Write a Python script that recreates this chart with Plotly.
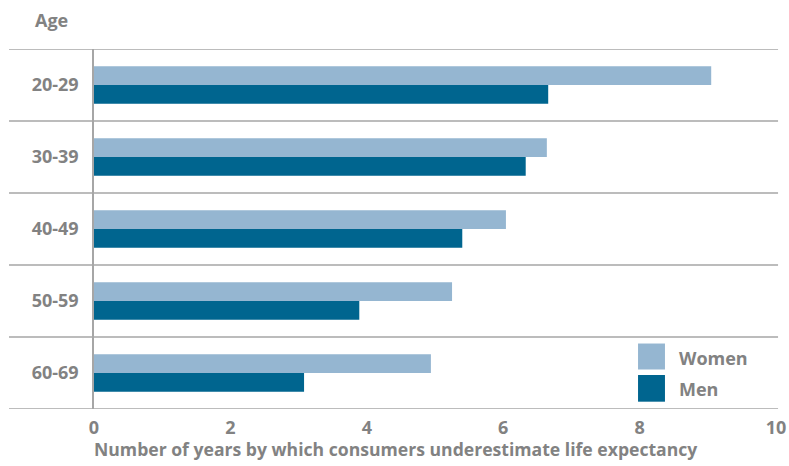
import plotly.graph_objects as go

categories = ["20-29", "30-39", "40-49", "50-59", "60-69"]
women = [9.05, 6.64, 6.04, 5.25, 4.94]
men = [6.66, 6.33, 5.40, 3.89, 3.08]
x_ticks = [0, 2, 4, 6, 8, 10]

WOMEN_C = "#95b6d1"
MEN_C = "#00658f"
GRAY = "#828282"
LINE = "#a6a6a6"
FONT = "Open Sans"
FS = 18
W = "bold"

fig = go.Figure()
fig.add_trace(go.Bar(y=categories, x=women, name="Women", orientation="h",
                     marker=dict(color=WOMEN_C, line=dict(width=0))))
fig.add_trace(go.Bar(y=categories, x=men, name="Men", orientation="h",
                     marker=dict(color=MEN_C, line=dict(width=0))))

shapes = []
for b in [i - 0.5 for i in range(len(categories) + 1)]:
    shapes.append(dict(type="line", xref="paper", yref="y", x0=-0.1246, x1=1.003,
                       y0=b, y1=b, line=dict(color=LINE, width=1.5)))
# legend swatches
shapes.append(dict(type="rect", xref="paper", yref="paper", x0=0.7977, x1=0.8372,
                   y0=0.1097, y1=0.1819, fillcolor=WOMEN_C, line=dict(width=0)))
shapes.append(dict(type="rect", xref="paper", yref="paper", x0=0.7977, x1=0.8372,
                   y0=0.0203, y1=0.0944, fillcolor=MEN_C, line=dict(width=0)))

tf = dict(family=FONT, size=FS, color=GRAY, weight=W)
annotations = [
    dict(text="Age", xref="paper", yref="paper", x=-0.0623, y=1.081,
         xanchor="center", yanchor="middle", showarrow=False, font=tf),
    dict(text="Number of years by which consumers underestimate life expectancy",
         xref="paper", yref="paper", x=-0.0035, y=-0.111, xanchor="left", yanchor="middle",
         showarrow=False, font=dict(family=FONT, size=17.6, color=GRAY, weight=W)),
    dict(text="Women", xref="paper", yref="paper", x=0.8548, y=0.1417,
         xanchor="left", yanchor="middle", showarrow=False, font=tf),
    dict(text="Men", xref="paper", yref="paper", x=0.8548, y=0.0556,
         xanchor="left", yanchor="middle", showarrow=False, font=tf),
]

fig.update_layout(
    width=789, height=466,
    margin=dict(l=94, r=13, t=49, b=57),
    paper_bgcolor="white", plot_bgcolor="white",
    barmode="group", bargap=0.48, bargroupgap=0,
    showlegend=False,
    shapes=shapes, annotations=annotations,
    font=dict(family=FONT, size=FS, color=GRAY),
    xaxis=dict(range=[0, 10], tickvals=x_ticks, ticktext=[str(t) for t in x_ticks],
               showgrid=False, zeroline=False, showline=False, ticks="",
               ticklabelstandoff=6, automargin=False, tickfont=tf),
    yaxis=dict(type="category", categoryorder="array", categoryarray=categories,
               range=[4.5, -0.5], showgrid=False, zeroline=False,
               showline=True, linecolor=LINE, linewidth=1.5, ticks="",
               ticklabelstandoff=10, automargin=False, tickfont=tf),
)

fig.write_html("out.html", config={"displayModeBar": False},
               post_script="document.body.style.margin='0';")
